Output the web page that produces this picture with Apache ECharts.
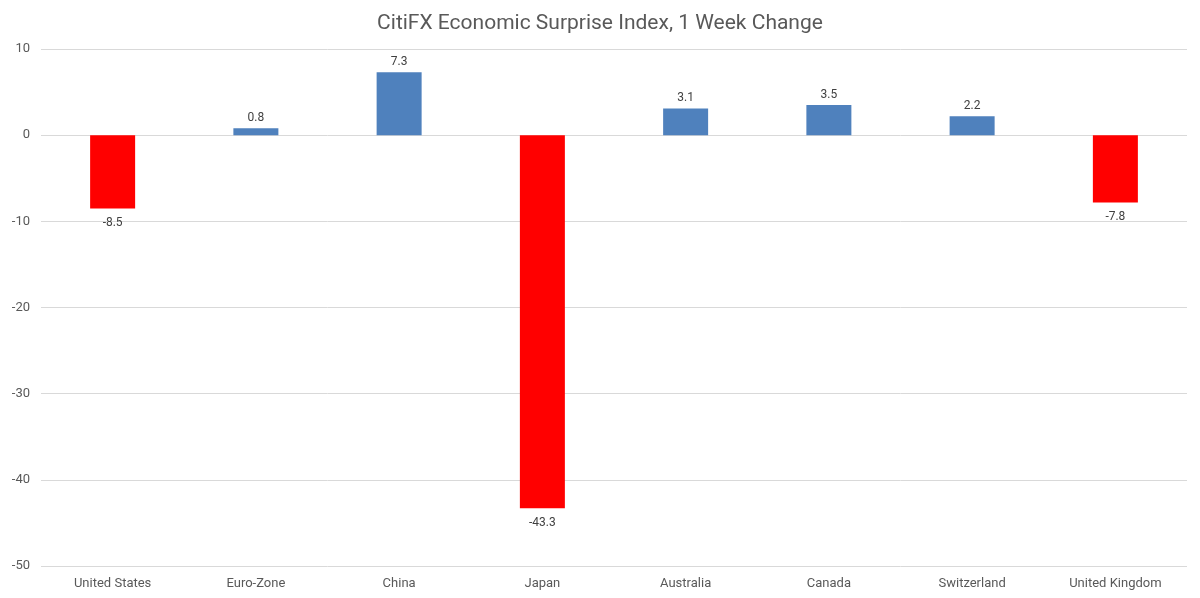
<!DOCTYPE html>
<html>
<head>
<meta charset="utf-8">
<script src="https://cdn.jsdelivr.net/npm/echarts@6/dist/echarts.min.js"></script>
<style>html,body{margin:0;padding:0;background:#fff}#c{width:1200px;height:598px}</style>
</head>
<body>
<div id="c"></div>
<script>
const categories = ["United States","Euro-Zone","China","Japan","Australia","Canada","Switzerland","United Kingdom"];
const values = [-8.5, 0.8, 7.3, -43.3, 3.1, 3.5, 2.2, -7.8];
const yTicks = {min: -50, max: 10, interval: 10};
const titleText = "CitiFX Economic Surprise Index, 1 Week Change";

const FONT = "Roboto";
const chart = echarts.init(document.getElementById('c'), null, {renderer: 'canvas'});
chart.setOption({
  animation: false,
  backgroundColor: '#fff',
  title: {
    text: titleText, left: 'center', top: 8,
    textStyle: {fontFamily: FONT, fontSize: 21, fontWeight: 'normal', color: '#595959'}
  },
  grid: {left: 41, right: 13, top: 49, bottom: 32, containLabel: false},
  xAxis: {
    type: 'category', data: categories,
    axisLine: {show: false}, axisTick: {show: false},
    axisLabel: {fontFamily: FONT, fontSize: 13, color: '#595959', margin: 11}
  },
  yAxis: {
    type: 'value', min: yTicks.min, max: yTicks.max, interval: yTicks.interval,
    axisLine: {show: false}, axisTick: {show: false},
    splitLine: {lineStyle: {color: '#d9d9d9', width: 1}},
    axisLabel: {fontFamily: FONT, fontSize: 13, color: '#595959', margin: 11}
  },
  series: [{
    type: 'bar', barWidth: 45,
    data: values.map(v => ({
      value: v,
      itemStyle: {color: v < 0 ? '#FF0000' : '#4F81BD'},
      label: {position: v < 0 ? 'bottom' : 'top', distance: v < 0 ? 9 : 4}
    })),
    label: {show: true, fontFamily: FONT, fontSize: 12, color: '#404040',
      formatter: p => p.value.toFixed(1)}
  }]
});
</script>
</body>
</html>
